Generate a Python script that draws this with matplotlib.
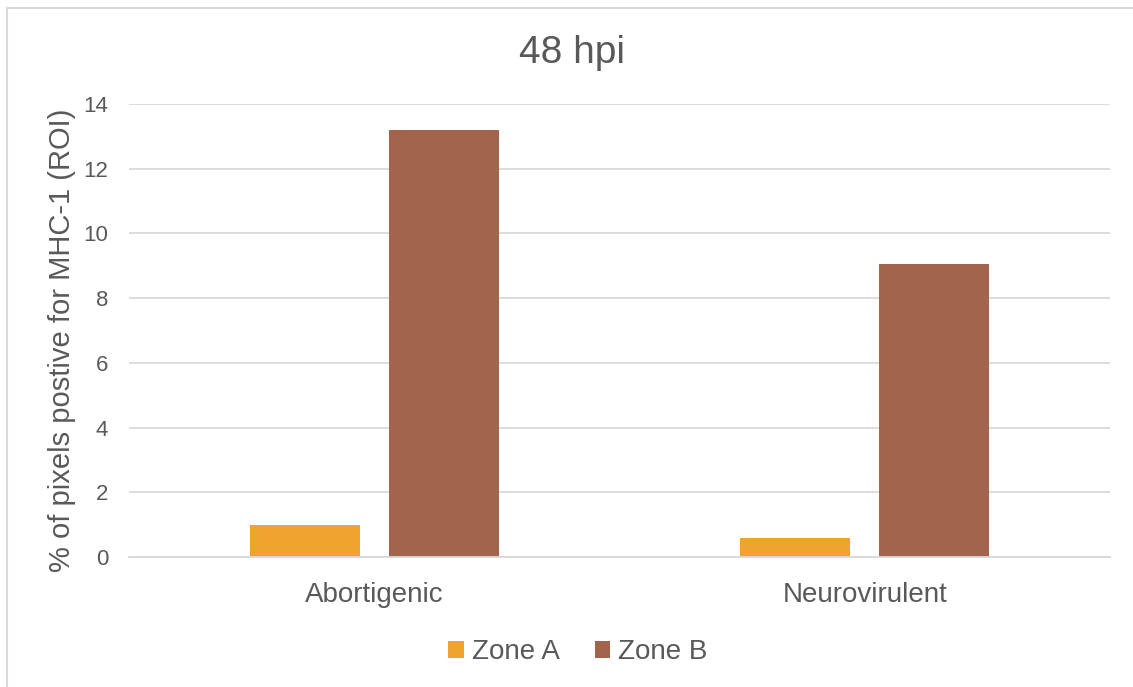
import matplotlib
matplotlib.use("Agg")
import matplotlib.pyplot as plt
from matplotlib.lines import Line2D
import numpy as np

categories = ["Abortigenic", "Neurovirulent"]
series_names = ["Zone A", "Zone B"]
zone_a = [0.98, 0.59]
zone_b = [13.2, 9.06]
y_ticks = [0, 2, 4, 6, 8, 10, 12, 14]

colors = ["#F0A32F", "#A3644E"]
text_color = "#595959"
grid_color = "#D9D9D9"

plt.rcParams["font.family"] = ["Liberation Sans", "DejaVu Sans"]

W, H = 1133, 687
fig = plt.figure(figsize=(W / 100, H / 100), dpi=100)
ax = fig.add_axes([129 / W, 1 - 557 / H, (1110 - 129) / W, (557 - 104) / H])

x = np.arange(len(categories))
bar_w = 0.224
offset = 0.1415
ax.bar(x - offset, zone_a, bar_w, color=colors[0], label=series_names[0], zorder=3)
ax.bar(x + offset, zone_b, bar_w, color=colors[1], label=series_names[1], zorder=3)

ax.set_xlim(-0.5, len(categories) - 0.5)
ax.set_ylim(0, 14)
ax.set_yticks(y_ticks)
ax.set_yticklabels([str(t) for t in y_ticks])
ax.set_xticks(x)
ax.set_xticklabels(categories)

ax.grid(axis="y", color=grid_color, linewidth=1.3, zorder=0)
ax.set_axisbelow(True)
for side in ["top", "right", "left"]:
    ax.spines[side].set_visible(False)
ax.spines["bottom"].set_color(grid_color)
ax.spines["bottom"].set_linewidth(1.3)
ax.spines["bottom"].set_zorder(4)

ax.tick_params(axis="y", length=0, pad=15, labelsize=16, labelcolor=text_color)
ax.tick_params(axis="x", length=0, pad=18, labelsize=20, labelcolor=text_color)

ax.set_ylabel("% of pixels postive for MHC-1 (ROI)", fontsize=21, color=text_color, labelpad=5)
ax.yaxis.label.set_y(0.5 - 10 / 453)

fig.text(572 / W, 1 - 53 / H, "48 hpi", ha="center", va="center", fontsize=28, color=text_color)

leg = fig.legend(loc="center", bbox_to_anchor=(578 / W, 1 - 652 / H), ncol=2, frameon=False,
                 fontsize=20, handlelength=0.55, handleheight=0.55, handletextpad=0.3,
                 columnspacing=1.25)
for t in leg.get_texts():
    t.set_color(text_color)

# chart area border (top and left edges)
fig.add_artist(Line2D([7 / W, 1.0], [1 - 7.5 / H, 1 - 7.5 / H], transform=fig.transFigure,
                      color=grid_color, linewidth=1.5))
fig.add_artist(Line2D([7 / W, 7 / W], [0.0, 1 - 7.5 / H], transform=fig.transFigure,
                      color=grid_color, linewidth=1.5))

fig.savefig("out.png", dpi=100, facecolor="white")
